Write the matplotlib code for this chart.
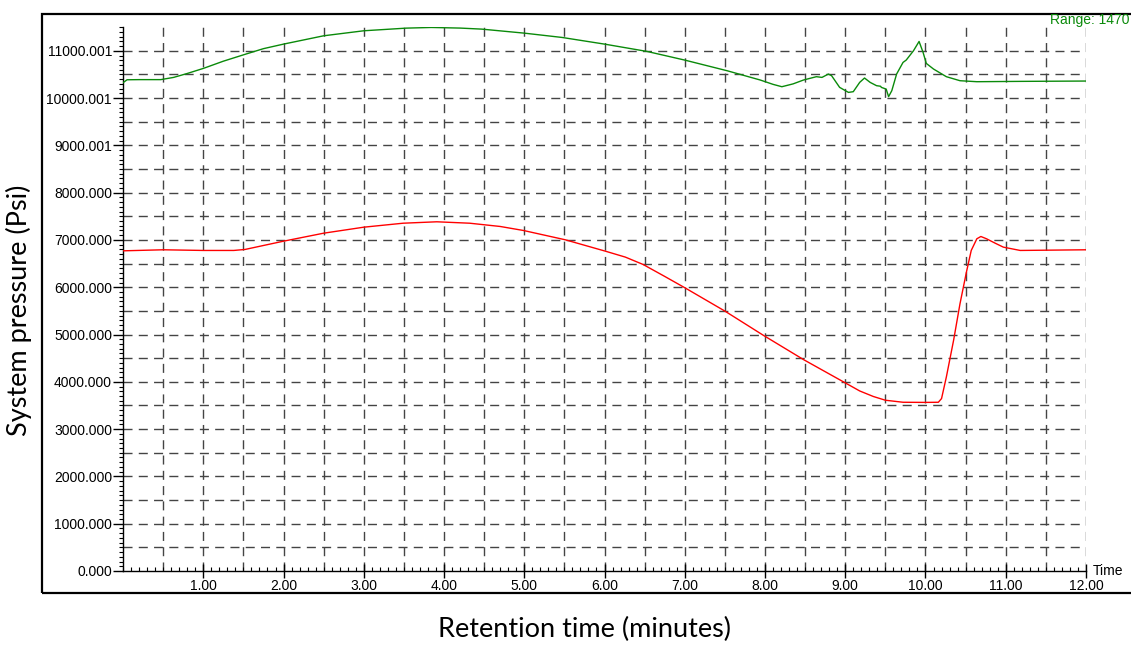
import numpy as np
import matplotlib
matplotlib.use("Agg")
import matplotlib.pyplot as plt
from matplotlib.patches import Rectangle
from matplotlib.ticker import FixedLocator, MultipleLocator, FixedFormatter

# ---- data (minutes, psi) -------------------------------------------------
green_t = [0.00, 0.05, 0.20, 0.47, 0.63, 0.80, 1.00, 1.25, 1.53, 1.75, 2.00,
           2.50, 3.00, 3.53, 3.84, 4.20, 4.47, 5.00, 5.47, 6.00, 6.53, 7.00,
           7.53, 7.94, 8.10, 8.21, 8.35, 8.48, 8.64, 8.71, 8.79, 8.83, 8.93,
           9.04, 9.10, 9.18, 9.24, 9.31, 9.39, 9.44, 9.45, 9.51, 9.54, 9.58,
           9.64, 9.72, 9.76, 9.85, 9.92, 9.97, 10.01, 10.10, 10.26, 10.43,
           10.64, 11.18, 12.00]
green_p = [10325, 10387, 10390, 10390, 10437, 10520, 10627, 10780, 10930,
           11045, 11141, 11317, 11423, 11479, 11493, 11480, 11458, 11373,
           11282, 11141, 10986, 10803, 10577, 10382, 10290, 10240, 10300,
           10382, 10452, 10437, 10508, 10473, 10226, 10120, 10135, 10332,
           10424, 10332, 10262, 10250, 10226, 10190, 10030, 10156, 10508,
           10754, 10804, 11000, 11197, 10965, 10733, 10614, 10452, 10367,
           10346, 10353, 10360]

red_t = [0.00, 0.50, 1.00, 1.38, 1.52, 1.75, 2.00, 2.50, 3.00, 3.49, 3.91,
         4.32, 4.70, 4.99, 5.51, 6.01, 6.26, 6.48, 6.75, 7.00, 7.50, 7.98,
         8.48, 8.98, 9.18, 9.35, 9.50, 9.72, 10.00, 10.16, 10.20, 10.26,
         10.35, 10.43, 10.51, 10.57, 10.64, 10.69, 10.76, 10.87, 10.97,
         11.18, 12.00]
red_p = [6770, 6792, 6778, 6778, 6799, 6883, 6974, 7143, 7270, 7354, 7384,
         7354, 7285, 7200, 7004, 6763, 6637, 6482, 6229, 5990, 5496, 4983,
         4470, 3997, 3807, 3690, 3611, 3568, 3565, 3568, 3646, 4103, 4877,
         5652, 6320, 6778, 7025, 7073, 7025, 6930, 6848, 6778, 6792]

ytick_vals = [0, 1000, 2000, 3000, 4000, 5000, 6000, 7000, 8000, 9000, 10000, 11000]
ytick_labels = ["0.000", "1000.000", "2000.000", "3000.000", "4000.000",
                "5000.000", "6000.000", "7000.000", "8000.000", "9000.001",
                "10000.001", "11000.001"]
xtick_vals = list(range(1, 13))
xtick_labels = ["%.2f" % v for v in xtick_vals]

plt.rcParams["font.family"] = ["Liberation Sans", "DejaVu Sans"]

fig = plt.figure(figsize=(11.31, 6.46), dpi=100)
ax = fig.add_axes([0.1088, 0.1161, 0.8514, 0.8419])

# outer frame around the whole chart
fig.patches.append(Rectangle((0.0371, 0.082), 1.0, 0.896, transform=fig.transFigure,
                             fill=False, lw=1.6, ec="black", zorder=0))

# dashed grid, every 0.5 min / 500 psi
for gx in np.arange(0.5, 12.01, 0.5):
    ax.axvline(gx, color="#444", lw=1.0, ls=(0, (6.5, 4.5)), zorder=1)
for gy in np.arange(500, 11001, 500):
    ax.axhline(gy, color="#444", lw=1.0, ls=(0, (6.5, 4.5)), zorder=1)

ax.plot(green_t, green_p, color="#0a8a0a", lw=1.0, zorder=3)
ax.plot(red_t, red_p, color="#ff0000", lw=1.0, zorder=3)

ax.set_xlim(0, 12)
ax.set_ylim(0, 11500)
for s in ("top", "right"):
    ax.spines[s].set_visible(False)
ax.spines["left"].set_linewidth(1.0)
ax.spines["bottom"].set_linewidth(1.0)

ax.yaxis.set_major_locator(FixedLocator(ytick_vals))
ax.yaxis.set_major_formatter(FixedFormatter(ytick_labels))
ax.yaxis.set_minor_locator(MultipleLocator(100))
ax.tick_params(axis="y", which="major", direction="out", length=7, width=1,
               labelsize=10, pad=1)
ax.tick_params(axis="y", which="minor", direction="out", length=3, width=0.8)

ax.xaxis.set_major_locator(FixedLocator(xtick_vals))
ax.xaxis.set_major_formatter(FixedFormatter(xtick_labels))
ax.xaxis.set_minor_locator(MultipleLocator(0.1))
ax.tick_params(axis="x", which="major", direction="inout", length=10, width=1,
               labelsize=10, pad=1)
ax.tick_params(axis="x", which="minor", direction="in", length=3, width=0.8)

ax.text(12.08, 0, "Time", fontsize=10, ha="left", va="center", clip_on=False)
fig.text(0.999, 0.969, "Range: 1470", color="#0a8a0a", fontsize=10,
         ha="right", va="center")

fig.text(0.017, 0.52, "System pressure (Psi)", rotation=90, fontsize=19.5,
         family=["Lato", "DejaVu Sans"], ha="center", va="center")
fig.text(0.517, 0.025, "Retention time (minutes)", fontsize=19.5,
         family=["Lato", "DejaVu Sans"], ha="center", va="center")

fig.savefig("out.png", dpi=100)
